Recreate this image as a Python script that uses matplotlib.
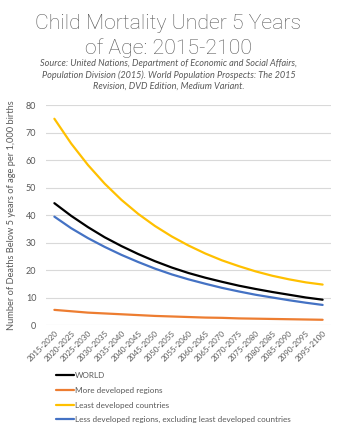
import matplotlib
matplotlib.use("Agg")
import matplotlib.pyplot as plt

periods = ["2015-2020", "2020-2025", "2025-2030", "2030-2035", "2035-2040",
           "2040-2045", "2045-2050", "2050-2055", "2055-2060", "2060-2065",
           "2065-2070", "2070-2075", "2075-2080", "2080-2085", "2085-2090",
           "2090-2095", "2095-2100"]

world = [44.3, 39.7, 35.6, 31.9, 28.7, 25.8, 23.2, 20.9, 18.9, 17.2,
         15.7, 14.3, 13.1, 12.0, 11.0, 10.0, 9.2]
more_developed = [5.5, 5.0, 4.5, 4.2, 3.9, 3.6, 3.3, 3.1, 2.9, 2.7,
                  2.6, 2.4, 2.3, 2.2, 2.1, 2.0, 1.9]
least_developed = [75.0, 66.0, 58.2, 51.4, 45.5, 40.4, 36.0, 32.2, 28.9, 26.0,
                   23.5, 21.4, 19.5, 17.9, 16.6, 15.5, 14.7]
less_developed_excl = [39.4, 35.2, 31.6, 28.4, 25.5, 22.9, 20.5, 18.4, 16.6, 15.0,
                       13.5, 12.2, 11.0, 10.0, 9.0, 8.1, 7.3]

series = [
    ("WORLD", world, "#000000"),
    ("More developed regions", more_developed, "#ED7D31"),
    ("Least developed countries", least_developed, "#FFC000"),
    ("Less developed regions, excluding least developed countries", less_developed_excl, "#4472C4"),
]

TXT = "#595959"
plt.rcParams["font.family"] = ["Lato", "DejaVu Sans"]

W, H = 337, 436
fig = plt.figure(figsize=(W / 100, H / 100), dpi=100)
ax = fig.add_axes([46 / W, (H - 325) / H, (331 - 46) / W, (325 - 105) / H])

x = list(range(len(periods)))
lines = []
for label, vals, color in series:
    ln, = ax.plot(x, vals, color=color, lw=1.6, label=label, solid_capstyle="round")
    lines.append(ln)

ax.set_xlim(-0.5, len(periods) - 0.5)
ax.set_ylim(0, 80)
ax.set_yticks(range(0, 81, 10))
ax.grid(axis="y", color="#D9D9D9", lw=0.8)
ax.set_axisbelow(True)
for s in ax.spines.values():
    s.set_visible(False)
ax.tick_params(length=0, labelsize=6.5, colors=TXT)
ax.tick_params(axis="y", pad=7)
ax.set_xticks(x)
ax.set_xticklabels(periods, rotation=45, ha="right", rotation_mode="anchor",
                   fontsize=5.8)
ax.tick_params(axis="x", pad=3)
ax.set_ylabel("Number of Deaths Below 5 years of age per 1,000 births",
              fontsize=6.7, color=TXT, labelpad=7)

fig.text(0.5, 1 - 36 / H, "Child Mortality Under 5 Years\nof Age: 2015-2100",
         ha="center", va="center", fontsize=15.3, color=TXT, linespacing=1.35,
         family=["Roboto", "DejaVu Sans"], fontweight="light")
fig.text(0.5, 1 - 75 / H,
         "Source: United Nations, Department of Economic and Social Affairs,\n"
         "Population Division (2015). World Population Prospects: The 2015\n"
         "Revision, DVD Edition, Medium Variant.",
         ha="center", va="center", fontsize=6.6, color=TXT, style="italic",
         linespacing=1.3)

fig.legend(handles=lines, loc="upper left", bbox_to_anchor=(56 / W, 1 - 372 / H),
           frameon=False, fontsize=5.9, labelcolor=TXT, handlelength=2.2,
           handletextpad=0.15, labelspacing=0.95, borderpad=0, borderaxespad=0)

fig.savefig("out.png", dpi=100)
